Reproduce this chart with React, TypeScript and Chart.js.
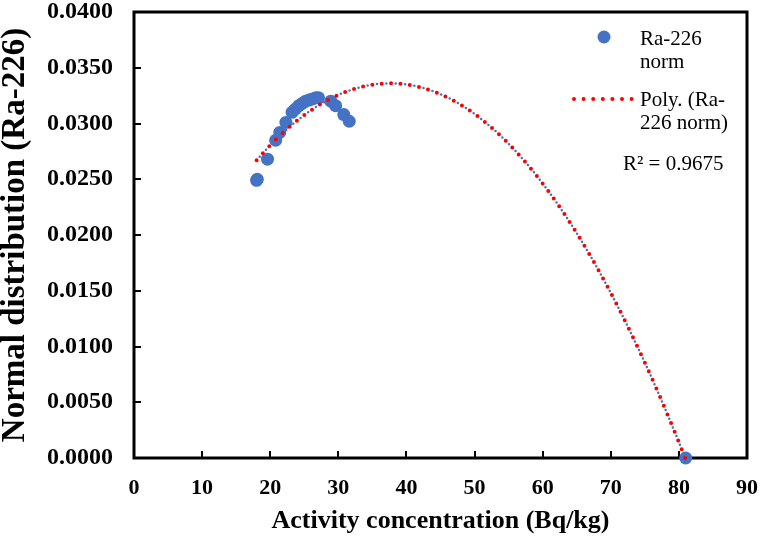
import React, { useEffect, useRef } from "react";
import { Chart, registerables } from "chart.js";

Chart.register(...registerables);

// Data
const activity = [18.0, 18.1, 19.6, 20.8, 21.4, 22.3, 23.2, 23.7, 24.2, 24.7, 25.2, 25.7, 26.2, 26.7, 27.1, 28.9, 29.6, 30.8, 31.6, 81.0];
const normDist = [0.0249, 0.025, 0.0268, 0.0285, 0.0292, 0.0301, 0.031, 0.0313, 0.0316, 0.0318, 0.032, 0.0321, 0.0322, 0.0323, 0.0323, 0.032, 0.0316, 0.0308, 0.0302, 0.0];
const xTicks = [0, 10, 20, 30, 40, 50, 60, 70, 80, 90];
const yTicks = [0, 0.005, 0.01, 0.015, 0.02, 0.025, 0.03, 0.035, 0.04];
const seriesLabel = ["Ra-226", "norm"];
const trendLabel = ["Poly. (Ra-", "226 norm)"];
const rSquaredText = "R\u00B2 = 0.9675";
const xTitle = "Activity concentration (Bq/kg)";
const yTitle = "Normal distribution (Ra-226)";

const BLUE = "#4472C4";
const RED = "#FF0000";
const FONT = "'Liberation Serif', 'Times New Roman', serif";

// Least-squares polynomial (order 2) trendline, as Excel computes it
function quadFit(xs: number[], ys: number[]) {
  const S = [0, 0, 0, 0, 0];
  const T = [0, 0, 0];
  for (let i = 0; i < xs.length; i++) {
    let p = 1;
    for (let k = 0; k < 5; k++) {
      S[k] += p;
      if (k < 3) T[k] += p * ys[i];
      p *= xs[i];
    }
  }
  const M = [
    [S[0], S[1], S[2], T[0]],
    [S[1], S[2], S[3], T[1]],
    [S[2], S[3], S[4], T[2]],
  ];
  for (let c = 0; c < 3; c++) {
    let piv = c;
    for (let r = c + 1; r < 3; r++) if (Math.abs(M[r][c]) > Math.abs(M[piv][c])) piv = r;
    [M[c], M[piv]] = [M[piv], M[c]];
    for (let r = 0; r < 3; r++) {
      if (r === c) continue;
      const f = M[r][c] / M[c][c];
      for (let k = c; k < 4; k++) M[r][k] -= f * M[c][k];
    }
  }
  return [M[0][3] / M[0][0], M[1][3] / M[1][1], M[2][3] / M[2][2]];
}

export default function App() {
  const ref = useRef<HTMLCanvasElement | null>(null);

  useEffect(() => {
    if (!ref.current) return;
    const [c0, c1, c2] = quadFit(activity, normDist);
    const xMin = Math.min(...activity);
    const xMax = Math.max(...activity);
    const trend: { x: number; y: number }[] = [];
    const steps = 200;
    for (let i = 0; i <= steps; i++) {
      const x = xMin + ((xMax - xMin) * i) / steps;
      trend.push({ x, y: c0 + c1 * x + c2 * x * x });
    }
    const points = activity.map((x, i) => ({ x, y: normDist[i] }));

    const framePlugin = {
      id: "frame",
      beforeDatasetsDraw(chart: any) {
        const { ctx, chartArea: a, scales } = chart;
        ctx.save();
        ctx.strokeStyle = "#000";
        ctx.lineWidth = 3;
        ctx.lineCap = "square";
        ctx.strokeRect(a.left, a.top, a.right - a.left, a.bottom - a.top);
        ctx.lineWidth = 2;
        ctx.lineCap = "butt";
        ctx.beginPath();
        xTicks.forEach((t) => {
          const px = Math.round(scales.x.getPixelForValue(t));
          if (t === xTicks[0] || t === xTicks[xTicks.length - 1]) return;
          ctx.moveTo(px, a.bottom);
          ctx.lineTo(px, a.bottom - 7);
        });
        yTicks.forEach((t) => {
          const py = Math.round(scales.y.getPixelForValue(t));
          if (t === yTicks[0] || t === yTicks[yTicks.length - 1]) return;
          ctx.moveTo(a.left, py);
          ctx.lineTo(a.left + 7, py);
        });
        ctx.stroke();
        ctx.restore();
      },
      afterDraw(chart: any) {
        const { ctx } = chart;
        ctx.save();
        ctx.fillStyle = "#000";
        ctx.font = `21px ${FONT}`;
        ctx.textBaseline = "alphabetic";
        ctx.textAlign = "left";
        // series entry
        ctx.fillStyle = BLUE;
        ctx.beginPath();
        ctx.arc(604, 37, 6.5, 0, Math.PI * 2);
        ctx.fill();
        ctx.fillStyle = "#000";
        ctx.fillText(seriesLabel[0], 640, 45);
        ctx.fillText(seriesLabel[1], 640, 68);
        // trendline entry
        ctx.fillStyle = RED;
        for (let i = 0; i < 7; i++) {
          ctx.beginPath();
          ctx.arc(574 + i * 9.6, 99, 2, 0, Math.PI * 2);
          ctx.fill();
        }
        ctx.fillStyle = "#000";
        ctx.fillText(trendLabel[0], 640, 106);
        ctx.fillText(trendLabel[1], 640, 129);
        ctx.fillText(rSquaredText, 623, 170);
        ctx.restore();
      },
    };

    const chart = new Chart(ref.current, {
      type: "scatter",
      data: {
        datasets: [
          {
            label: "Poly. (Ra-226 norm)",
            data: trend,
            showLine: true,
            borderColor: RED,
            borderWidth: 4,
            borderDash: [0, 9.4],
            borderCapStyle: "round",
            pointRadius: 0,
            pointHoverRadius: 0,
            fill: false,
            order: 1,
            clip: false,
          } as any,
          {
            label: "trend shadow",
            data: trend,
            showLine: true,
            borderColor: BLUE,
            borderWidth: 2.5,
            borderDash: [0, 9.4],
            borderDashOffset: 4.7,
            borderCapStyle: "round",
            pointRadius: 0,
            pointHoverRadius: 0,
            fill: false,
            order: 2,
            clip: false,
          } as any,
          {
            label: "Ra-226 norm",
            data: points,
            backgroundColor: BLUE,
            borderColor: BLUE,
            borderWidth: 0,
            pointRadius: 6.5,
            pointHoverRadius: 6.5,
            order: 3,
            clip: false,
          } as any,
        ],
      },
      options: {
        responsive: false,
        animation: false,
        layout: { autoPadding: false, padding: { top: 12, right: 15, left: 0, bottom: 0 } },
        plugins: {
          legend: { display: false },
          tooltip: { enabled: false },
        },
        scales: {
          x: {
            type: "linear",
            min: 0,
            max: 90,
            afterBuildTicks: (s: any) => {
              s.ticks = xTicks.map((v) => ({ value: v }));
            },
            afterFit: (s: any) => {
              s.height = 85;
              s.paddingLeft = 0;
              s.paddingRight = 0;
            },
            grid: { display: false, drawTicks: false },
            border: { display: false },
            ticks: {
              padding: 17,
              color: "#000",
              font: { family: FONT, size: 22, weight: "bold" },
              maxRotation: 0,
              callback: (v: any) => String(v),
            },
            title: {
              display: true,
              text: xTitle,
              color: "#000",
              font: { family: FONT, size: 26, weight: "bold", lineHeight: 1 },
              padding: { top: 0, bottom: 9 },
            },
          },
          y: {
            type: "linear",
            min: 0,
            max: 0.04,
            afterBuildTicks: (s: any) => {
              s.ticks = yTicks.map((v) => ({ value: v }));
            },
            afterFit: (s: any) => {
              s.width = 134;
              s.paddingTop = 0;
              s.paddingBottom = 0;
            },
            grid: { display: false, drawTicks: false },
            border: { display: false },
            ticks: {
              padding: 21,
              color: "#000",
              font: { family: FONT, size: 24, weight: "bold" },
              callback: (v: any) => Number(v).toFixed(4),
            },
            title: {
              display: true,
              text: yTitle,
              color: "#000",
              font: { family: FONT, size: 33, weight: "bold", lineHeight: 1 },
              padding: { top: -1, bottom: 0 },
            },
          },
        },
      } as any,
      plugins: [framePlugin],
    });
    return () => chart.destroy();
  }, []);

  return (
    <div style={{ position: "fixed", left: 0, top: 0, width: 762, height: 543, background: "#fff" }}>
      <canvas ref={ref} width={762} height={543} style={{ display: "block", width: 762, height: 543 }} />
    </div>
  );
}
